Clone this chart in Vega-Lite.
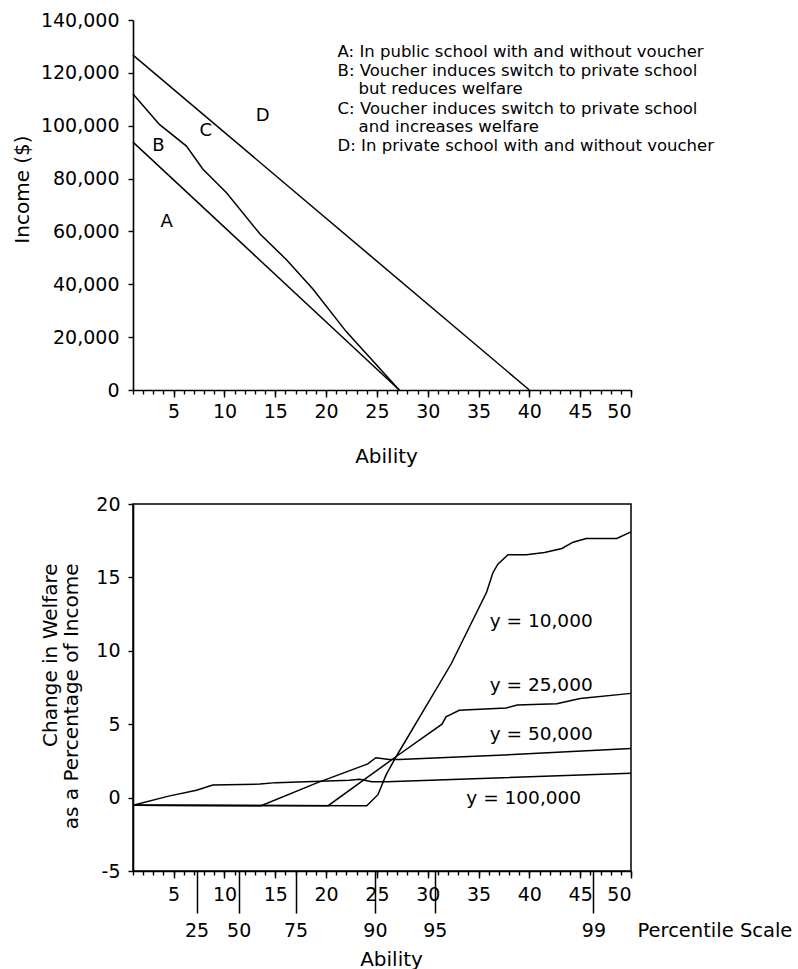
{
  "$schema": "https://vega.github.io/schema/vega-lite/v6.json",
  "padding": {"left": 12, "top": 11, "right": 5, "bottom": 0},
  "background": "white",
  "spacing": 28,
  "config": {
    "font": "DejaVu Sans",
    "axis": {
      "labelFont": "DejaVu Sans", "titleFont": "DejaVu Sans",
      "labelColor": "black", "titleColor": "black",
      "domainColor": "black", "tickColor": "black",
      "grid": false, "labelFontSize": 19, "titleFontSize": 20,
      "titleFontWeight": "normal", "domainWidth": 1.6, "tickWidth": 1.4
    },
    "text": {"font": "DejaVu Sans", "color": "black"}
  },
  "datasets": {
    "top": [
      {"kind": "line", "line": "AB", "ability": 1, "income": 93800},
      {"kind": "line", "line": "AB", "ability": 27.2, "income": 0},
      {"kind": "line", "line": "BC", "ability": 1, "income": 112000},
      {"kind": "line", "line": "BC", "ability": 3.6, "income": 100500},
      {"kind": "line", "line": "BC", "ability": 6.26, "income": 92300},
      {"kind": "line", "line": "BC", "ability": 7.86, "income": 83600},
      {"kind": "line", "line": "BC", "ability": 10.2, "income": 74600},
      {"kind": "line", "line": "BC", "ability": 13.5, "income": 59000},
      {"kind": "line", "line": "BC", "ability": 16.1, "income": 49300},
      {"kind": "line", "line": "BC", "ability": 18.7, "income": 38200},
      {"kind": "line", "line": "BC", "ability": 22.0, "income": 22000},
      {"kind": "line", "line": "BC", "ability": 27.2, "income": 0},
      {"kind": "line", "line": "CD", "ability": 1, "income": 126700},
      {"kind": "line", "line": "CD", "ability": 40, "income": 0},
      {"kind": "region", "ability": 4.3, "income": 63600, "label": "A"},
      {"kind": "region", "ability": 3.5, "income": 92300, "label": "B"},
      {"kind": "region", "ability": 8.15, "income": 98000, "label": "C"},
      {"kind": "region", "ability": 13.75, "income": 103700, "label": "D"},
      {"kind": "legend", "ability": 21.13, "income": 127900, "label": "A: In public school with and without voucher"},
      {"kind": "legend", "ability": 21.13, "income": 120700, "label": "B: Voucher induces switch to private school"},
      {"kind": "legend", "ability": 23.2, "income": 113900, "label": "but reduces welfare"},
      {"kind": "legend", "ability": 21.13, "income": 106300, "label": "C: Voucher induces switch to private school"},
      {"kind": "legend", "ability": 23.2, "income": 99500, "label": "and increases welfare"},
      {"kind": "legend", "ability": 21.13, "income": 92300, "label": "D: In private school with and without voucher"}
    ],
    "bottom": [
      {"kind": "line", "series": "10,000", "ability": 1, "change": -0.52},
      {"kind": "line", "series": "10,000", "ability": 24, "change": -0.55},
      {"kind": "line", "series": "10,000", "ability": 25.1, "change": 0.2},
      {"kind": "line", "series": "10,000", "ability": 25.9, "change": 1.55},
      {"kind": "line", "series": "10,000", "ability": 26.9, "change": 2.8},
      {"kind": "line", "series": "10,000", "ability": 32.3, "change": 9.1},
      {"kind": "line", "series": "10,000", "ability": 35.8, "change": 14.0},
      {"kind": "line", "series": "10,000", "ability": 36.4, "change": 15.3},
      {"kind": "line", "series": "10,000", "ability": 36.9, "change": 15.9},
      {"kind": "line", "series": "10,000", "ability": 37.9, "change": 16.55},
      {"kind": "line", "series": "10,000", "ability": 39.7, "change": 16.55},
      {"kind": "line", "series": "10,000", "ability": 41.5, "change": 16.7},
      {"kind": "line", "series": "10,000", "ability": 43.2, "change": 16.97},
      {"kind": "line", "series": "10,000", "ability": 44.3, "change": 17.4},
      {"kind": "line", "series": "10,000", "ability": 45.6, "change": 17.65},
      {"kind": "line", "series": "10,000", "ability": 48.6, "change": 17.65},
      {"kind": "line", "series": "10,000", "ability": 50, "change": 18.1},
      {"kind": "line", "series": "25,000", "ability": 1, "change": -0.52},
      {"kind": "line", "series": "25,000", "ability": 20.2, "change": -0.55},
      {"kind": "line", "series": "25,000", "ability": 26.9, "change": 2.8},
      {"kind": "line", "series": "25,000", "ability": 31.4, "change": 5.0},
      {"kind": "line", "series": "25,000", "ability": 31.8, "change": 5.5},
      {"kind": "line", "series": "25,000", "ability": 33.1, "change": 5.95},
      {"kind": "line", "series": "25,000", "ability": 37.7, "change": 6.1},
      {"kind": "line", "series": "25,000", "ability": 38.8, "change": 6.3},
      {"kind": "line", "series": "25,000", "ability": 42.7, "change": 6.4},
      {"kind": "line", "series": "25,000", "ability": 45, "change": 6.75},
      {"kind": "line", "series": "25,000", "ability": 50, "change": 7.1},
      {"kind": "line", "series": "50,000", "ability": 1, "change": -0.52},
      {"kind": "line", "series": "50,000", "ability": 13.6, "change": -0.55},
      {"kind": "line", "series": "50,000", "ability": 19.1, "change": 1.0},
      {"kind": "line", "series": "50,000", "ability": 24.1, "change": 2.3},
      {"kind": "line", "series": "50,000", "ability": 24.9, "change": 2.72},
      {"kind": "line", "series": "50,000", "ability": 26.2, "change": 2.6},
      {"kind": "line", "series": "50,000", "ability": 27.2, "change": 2.6},
      {"kind": "line", "series": "50,000", "ability": 38.4, "change": 2.93},
      {"kind": "line", "series": "50,000", "ability": 50, "change": 3.34},
      {"kind": "line", "series": "100,000", "ability": 1, "change": -0.52},
      {"kind": "line", "series": "100,000", "ability": 4.5, "change": 0.1},
      {"kind": "line", "series": "100,000", "ability": 7.25, "change": 0.5},
      {"kind": "line", "series": "100,000", "ability": 8.85, "change": 0.85},
      {"kind": "line", "series": "100,000", "ability": 13.5, "change": 0.92},
      {"kind": "line", "series": "100,000", "ability": 15.1, "change": 1.02},
      {"kind": "line", "series": "100,000", "ability": 22.3, "change": 1.18},
      {"kind": "line", "series": "100,000", "ability": 23.3, "change": 1.25},
      {"kind": "line", "series": "100,000", "ability": 24.5, "change": 1.08},
      {"kind": "line", "series": "100,000", "ability": 26, "change": 1.08},
      {"kind": "line", "series": "100,000", "ability": 50, "change": 1.66},
      {"kind": "label", "series": "10,000", "ability": 36.1, "change": 12.0, "label": "y = 10,000"},
      {"kind": "label", "series": "25,000", "ability": 36.1, "change": 7.7, "label": "y = 25,000"},
      {"kind": "label", "series": "50,000", "ability": 36.1, "change": 4.36, "label": "y = 50,000"},
      {"kind": "label", "series": "100,000", "ability": 33.8, "change": 0.0, "label": "y = 100,000"}
    ]
  },
  "vconcat": [
    {
      "width": 498,
      "height": 370,
      "view": {"stroke": null},
      "data": {"name": "top"},
      "resolve": {"axis": {"x": "independent"}},
      "layer": [
        {
          "transform": [{"filter": "datum.kind == 'line'"}],
          "mark": {"type": "line", "color": "black", "strokeWidth": 1.5},
          "encoding": {
            "x": {
              "field": "ability", "type": "quantitative",
              "scale": {"domain": [1, 50], "nice": false, "zero": false},
              "axis": {
                "orient": "bottom",
                "values": [5, 10, 15, 20, 25, 30, 35, 40, 45, 50],
                "tickSize": 7, "labelPadding": 5,
                "title": "Ability", "titleX": 253, "titleY": 56,
                "titleBaseline": "top", "titleAlign": "center"
              }
            },
            "y": {
              "field": "income", "type": "quantitative",
              "scale": {"domain": [0, 140000], "nice": false},
              "axis": {
                "values": [0, 20000, 40000, 60000, 80000, 100000, 120000, 140000],
                "labelExpr": "format(datum.value, ',')", "tickSize": 5, "labelPadding": 9,
                "title": "Income ($)", "titleAngle": 270,
                "titleX": -121, "titleY": 169,
                "titleBaseline": "top", "titleAlign": "center"
              }
            },
            "detail": {"field": "line"}
          }
        },
        {
          "transform": [{"filter": "datum.kind == 'region'"}],
          "mark": {"type": "text", "fontSize": 18, "align": "center", "baseline": "middle"},
          "encoding": {
            "x": {
              "field": "ability", "type": "quantitative",
              "axis": {
                "orient": "bottom",
                "values": [1,2,3,4,5,6,7,8,9,10,11,12,13,14,15,16,17,18,19,20,21,22,23,24,25,26,27,28,29,30,31,32,33,34,35,36,37,38,39,40,41,42,43,44,45,46,47,48,49,50],
                "tickSize": 4, "labels": false, "domain": false, "title": null
              }
            },
            "y": {"field": "income", "type": "quantitative"},
            "text": {"field": "label"}
          }
        },
        {
          "transform": [{"filter": "datum.kind == 'legend'"}],
          "mark": {"type": "text", "fontSize": 16.5, "align": "left", "baseline": "middle"},
          "encoding": {
            "x": {"field": "ability", "type": "quantitative", "axis": null},
            "y": {"field": "income", "type": "quantitative"},
            "text": {"field": "label"}
          }
        }
      ]
    },
    {
      "width": 498,
      "height": 367,
      "view": {"stroke": "black", "strokeWidth": 1.5},
      "data": {"name": "bottom"},
      "resolve": {"axis": {"x": "independent"}},
      "layer": [
        {
          "transform": [{"filter": "datum.kind == 'line' && (datum.series == '10,000' || datum.series == '25,000')"}],
          "mark": {"type": "line", "color": "black", "strokeWidth": 1.5},
          "encoding": {
            "x": {
              "field": "ability", "type": "quantitative",
              "scale": {"domain": [1, 50], "nice": false, "zero": false},
              "axis": {
                "orient": "bottom",
                "values": [5, 10, 15, 20, 25, 30, 35, 40, 45, 50],
                "tickSize": 7, "labelPadding": 7,
                "title": "Ability", "titleX": 258, "titleY": 88,
                "titleBaseline": "middle", "titleAlign": "center"
              }
            },
            "y": {
              "field": "change", "type": "quantitative",
              "scale": {"domain": [-5, 20], "nice": false, "zero": false},
              "axis": {
                "values": [-5, 0, 5, 10, 15, 20],
                "labelExpr": "replace(datum.label, '\u2212', '-')",
                "tickSize": 5, "labelPadding": 8,
                "title": ["Change in Welfare", "as a Percentage of Income"],
                "titleAngle": 270, "titleX": -93, "titleY": 59,
                "titleBaseline": "top", "titleAlign": "right",
                "titleLineHeight": 21
              }
            },
            "detail": {"field": "series"}
          }
        },
        {
          "transform": [{"filter": "datum.kind == 'line' && (datum.series == '50,000' || datum.series == '100,000')"}],
          "mark": {"type": "line", "color": "black", "strokeWidth": 1.5},
          "encoding": {
            "x": {
              "field": "ability", "type": "quantitative",
              "axis": {
                "orient": "bottom",
                "values": [7.25, 11.4, 17, 24.8, 30.7, 46.3],
                "labelExpr": "datum.value == 7.25 ? '25' : datum.value == 11.4 ? '50' : datum.value == 17 ? '75' : datum.value == 24.8 ? '90' : datum.value == 30.7 ? '95' : '99'",
                "tickSize": 42, "tickWidth": 1.5, "labelPadding": 8, "domain": false,
                "title": "Percentile Scale", "titleX": 504, "titleY": 59,
                "titleAlign": "left", "titleBaseline": "middle", "titleFontSize": 19.5
              }
            },
            "y": {"field": "change", "type": "quantitative"},
            "detail": {"field": "series"}
          }
        },
        {
          "transform": [{"filter": "datum.kind == 'label'"}],
          "mark": {"type": "text", "fontSize": 18.5, "align": "left", "baseline": "middle"},
          "encoding": {
            "x": {
              "field": "ability", "type": "quantitative",
              "axis": {
                "orient": "bottom",
                "values": [1,2,3,4,5,6,7,8,9,10,11,12,13,14,15,16,17,18,19,20,21,22,23,24,25,26,27,28,29,30,31,32,33,34,35,36,37,38,39,40,41,42,43,44,45,46,47,48,49,50],
                "tickSize": 4, "labels": false, "domain": false, "title": null
              }
            },
            "y": {"field": "change", "type": "quantitative"},
            "text": {"field": "label"}
          }
        }
      ]
    }
  ]
}
